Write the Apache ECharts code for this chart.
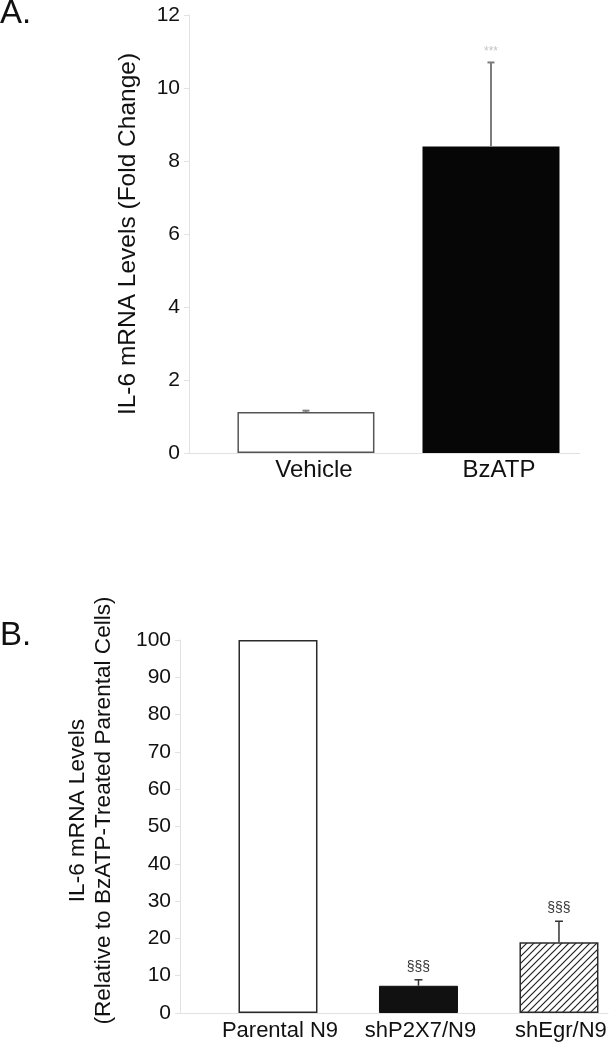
<!DOCTYPE html>
<html>
<head>
<meta charset="utf-8">
<script src="https://cdn.jsdelivr.net/npm/echarts@6/dist/echarts.min.js"></script>
<style>
html,body{margin:0;padding:0;background:#fff;}
#chart{width:616px;height:1048px;}
</style>
</head>
<body>
<div id="chart"></div>
<script>
// Panel A data
const catsA = ['Vehicle', 'BzATP'];
const valsA = [1.12, 8.4];
const errA = [0.04, 2.3];
const sigA = ['', '***'];
const ticksA = [0, 2, 4, 6, 8, 10, 12];

// Panel B data
const catsB = ['Parental N9', 'shP2X7/N9', 'shEgr/N9'];
const valsB = [100, 7.3, 19.0];
const errB = [0, 1.6, 5.6];
const sigB = ['', '§§§', '§§§'];
const ticksB = [0, 10, 20, 30, 40, 50, 60, 70, 80, 90, 100];

const FONT = '"Liberation Sans", Arial, Helvetica, sans-serif';

// hatch pattern
const pc = document.createElement('canvas');
pc.width = 7; pc.height = 7;
const g = pc.getContext('2d');
g.fillStyle = '#fff'; g.fillRect(0, 0, 7, 7);
g.strokeStyle = '#222'; g.lineWidth = 1.2;
g.beginPath();
g.moveTo(-1, 8); g.lineTo(8, -1);
g.moveTo(-1, 1); g.lineTo(1, -1);
g.moveTo(6, 8); g.lineTo(8, 6);
g.stroke();

const axisGray = '#e2e2e2';

function errRender(color, lw, capW, sigs, sigColor, sigSize, sigGap) {
  return function (params, api) {
    const x = api.value(0), v = api.value(1), e = api.value(2);
    const base = api.coord([x, v]);
    const top = api.coord([x, v + e]);
    const children = [];
    if (e > 0) {
      children.push({type: 'line', shape: {x1: base[0], y1: base[1], x2: top[0], y2: top[1]}, style: {stroke: color, lineWidth: lw}});
      children.push({type: 'line', shape: {x1: top[0] - capW / 2, y1: top[1], x2: top[0] + capW / 2, y2: top[1]}, style: {stroke: color, lineWidth: lw}});
    }
    const s = sigs[params.dataIndex];
    if (s) {
      children.push({type: 'text', style: {text: s, x: top[0], y: top[1] - sigGap, align: 'center', verticalAlign: 'middle', fill: sigColor, font: sigSize + 'px ' + FONT}});
    }
    return {type: 'group', children: children};
  };
}

const styleA = [
  {color: '#ffffff', borderColor: '#555555', borderWidth: 1.5},
  {color: '#060606', borderColor: '#060606', borderWidth: 0}
];
const styleB = [
  {color: '#ffffff', borderColor: '#2a2a2a', borderWidth: 1.5},
  {color: '#111111', borderColor: '#111111', borderWidth: 1},
  {color: {image: pc, repeat: 'repeat'}, borderColor: '#2a2a2a', borderWidth: 1.5}
];

const chart = echarts.init(document.getElementById('chart'), null, {renderer: 'canvas'});
const option = {
  backgroundColor: '#ffffff',
  animation: false,
  textStyle: {fontFamily: FONT},
  title: [
    {text: 'A.', left: 0, top: -3, padding: 0, textStyle: {fontSize: 33, fontWeight: 'normal', color: '#111', fontFamily: FONT}},
    {text: 'B.', left: 0, top: 619, padding: 0, textStyle: {fontSize: 33, fontWeight: 'normal', color: '#111', fontFamily: FONT}}
  ],
  grid: [
    {left: 189, top: 15, width: 391, height: 438, containLabel: false, outerBoundsMode: 'none'},
    {left: 180, top: 640, width: 428, height: 373, containLabel: false, outerBoundsMode: 'none'}
  ],
  xAxis: [
    {
      type: 'value', gridIndex: 0, min: -0.632, max: 1.481,
      axisLine: {show: true, onZero: false, lineStyle: {color: axisGray, width: 1}},
      axisTick: {show: false}, splitLine: {show: false},
      axisLabel: {
        customValues: catsA.map((c, i) => i),
        formatter: v => catsA[Math.round(v)] || '',
        fontSize: 24, color: '#111', margin: 5, padding: [0, 0, 0, 16]
      }
    },
    {
      type: 'value', gridIndex: 1, min: -0.6975, max: 2.349,
      axisLine: {show: true, onZero: false, lineStyle: {color: axisGray, width: 1}},
      axisTick: {show: false}, splitLine: {show: false},
      axisLabel: {
        customValues: catsB.map((c, i) => i),
        formatter: v => catsB[Math.round(v)] || '',
        fontSize: 22, color: '#111', margin: 7, padding: [0, 0, 0, 4]
      }
    }
  ],
  yAxis: [
    {
      type: 'value', gridIndex: 0, min: 0, max: 12, interval: 2,
      axisLine: {show: true, onZero: false, lineStyle: {color: axisGray, width: 1}},
      axisTick: {show: true, length: 5, lineStyle: {color: axisGray}},
      splitLine: {show: false},
      axisLabel: {fontSize: 21, color: '#111', margin: 9, formatter: v => String(v)},
      name: 'IL-6 mRNA Levels (Fold Change)',
      nameLocation: 'middle', nameRotate: 90, nameGap: 48,
      nameTextStyle: {fontSize: 24.5, color: '#111', fontFamily: FONT}
    },
    {
      type: 'value', gridIndex: 1, min: 0, max: 100, interval: 10,
      axisLine: {show: true, onZero: false, lineStyle: {color: axisGray, width: 1}},
      axisTick: {show: true, length: 5, lineStyle: {color: axisGray}},
      splitLine: {show: false},
      axisLabel: {fontSize: 21, color: '#111', margin: 9},
      name: 'IL-6 mRNA Levels\n(Relative to BzATP-Treated Parental Cells)',
      nameLocation: 'middle', nameRotate: 90, nameGap: 63,
      nameTextStyle: {fontSize: 22.6, lineHeight: 26, color: '#111', fontFamily: FONT, padding: [0, 0, 0, 32]}
    }
  ],
  series: [
    {
      type: 'bar', xAxisIndex: 0, yAxisIndex: 0, barWidth: 137,
      data: valsA.map((v, i) => ({value: [i, v], itemStyle: styleA[i]}))
    },
    {
      type: 'custom', xAxisIndex: 0, yAxisIndex: 0, z: 5,
      renderItem: errRender('#7d7d7d', 2, 7, sigA, '#c4c4c4', 12, 11),
      data: valsA.map((v, i) => [i, v, errA[i]])
    },
    {
      type: 'bar', xAxisIndex: 1, yAxisIndex: 1, barWidth: 79,
      data: valsB.map((v, i) => ({value: [i, v], itemStyle: styleB[i]}))
    },
    {
      type: 'custom', xAxisIndex: 1, yAxisIndex: 1, z: 5,
      renderItem: errRender('#333333', 1.5, 8, sigB, '#333333', 14, 13),
      data: valsB.map((v, i) => [i, v, errB[i]])
    }
  ]
};
chart.setOption(option);
</script>
</body>
</html>
